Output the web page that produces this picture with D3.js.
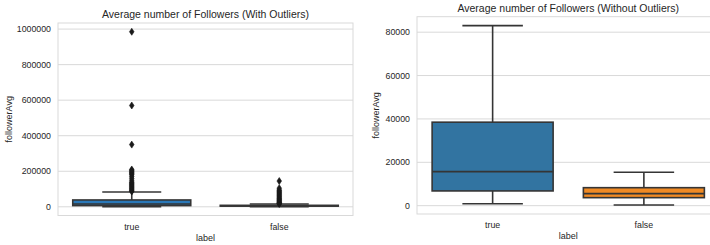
<!DOCTYPE html>
<html><head><meta charset="utf-8">
<script src="https://cdn.jsdelivr.net/npm/d3@7"></script>
<style>
body{margin:0;background:#fff;}
svg{display:block;font-family:"Liberation Sans",Arial,sans-serif;}
</style></head>
<body><svg id="c" width="710" height="245"></svg>
<script>
// ---- data ----
const categories = ["true", "false"];
const q1 = [6800, 3700];
const median = [15700, 5550];
const q3 = [38500, 8300];
const whiskerLow = [900, 300];
const whiskerHigh = [83000, 15400];
const outliersTrue = [86000, 90000, 95000, 100000, 105000, 110000, 115000, 120000, 125000, 130000, 135000, 140000, 150000, 160000, 170000, 180000, 185000, 190000, 195000, 200000, 205000, 210000, 350000, 570000, 985000];
const outliersFalse = [16000, 18000, 20000, 23000, 26000, 30000, 34000, 38000, 42000, 46000, 50000, 55000, 60000, 65000, 70000, 75000, 80000, 85000, 90000, 95000, 105000, 145000];
const yTicksLeft = [0, 200000, 400000, 600000, 800000, 1000000];
const yTicksRight = [0, 20000, 40000, 60000, 80000];
const titles = ["Average number of Followers (With Outliers)", "Average number of Followers (Without Outliers)"];
const xLabel = "label";
const yLabel = "followerAvg";

const svg = d3.select("#c");
const lineCol = "#353535";
const gridCol = "#d9d9d9";

function panel(o){
  const g = svg.append("g");
  const x = d3.scaleBand().domain(categories).range([o.x0, o.x1]).paddingInner(0.2).paddingOuter(0.1);
  let lo = d3.min(whiskerLow), hi = d3.max(whiskerHigh);
  if (o.outliers){ hi = Math.max(hi, d3.max(outliersTrue), d3.max(outliersFalse)); lo = Math.min(lo, d3.min(outliersTrue), d3.min(outliersFalse)); }
  const m = (hi - lo) * 0.05;
  const y = d3.scaleLinear().domain([lo - m, hi + m]).range([o.y1, o.y0]);
  g.selectAll(".grid").data(o.ticks).join("line")
    .attr("x1", o.x0).attr("x2", o.x1).attr("y1", d=>y(d)).attr("y2", d=>y(d))
    .attr("stroke", gridCol).attr("stroke-width", 1);
  g.append("rect").attr("x", o.x0).attr("y", o.y0).attr("width", o.x1 - o.x0).attr("height", o.y1 - o.y0)
    .attr("fill", "none").attr("stroke", gridCol).attr("stroke-width", 1);
  g.selectAll(".yt").data(o.ticks).join("text")
    .attr("x", o.x0 - 7).attr("y", d=>y(d)).attr("dy", "0.35em")
    .attr("text-anchor", "end").attr("font-size", 8.8).attr("fill", "#262626").text(d=>d);
  g.selectAll(".xt").data(categories).join("text")
    .attr("x", d=>x(d) + x.bandwidth()/2).attr("y", o.y1 + 14)
    .attr("text-anchor", "middle").attr("font-size", 8.8).attr("fill", "#262626").text(d=>d);
  g.append("text").attr("x", (o.x0 + o.x1)/2).attr("y", o.y1 + 25)
    .attr("text-anchor", "middle").attr("font-size", 9).attr("fill", "#262626").text(xLabel);
  g.append("text").attr("transform", `translate(${o.ylx},${(o.y0 + o.y1)/2}) rotate(-90)`)
    .attr("text-anchor", "middle").attr("font-size", 9).attr("fill", "#262626").text(yLabel);
  g.append("text").attr("x", (o.x0 + o.x1)/2).attr("y", o.y0 - 5)
    .attr("text-anchor", "middle").attr("font-size", 10.5).attr("fill", "#262626").text(o.title);
  categories.forEach((c, i) => {
    const bx = x(c), bw = x.bandwidth(), cx = bx + bw/2, cw = bw/2;
    g.append("line").attr("x1", cx).attr("x2", cx).attr("y1", y(q3[i])).attr("y2", y(whiskerHigh[i])).attr("stroke", lineCol).attr("stroke-width", 1.6);
    g.append("line").attr("x1", cx).attr("x2", cx).attr("y1", y(q1[i])).attr("y2", y(whiskerLow[i])).attr("stroke", lineCol).attr("stroke-width", 1.6);
    [whiskerHigh[i], whiskerLow[i]].forEach(v => {
      g.append("line").attr("x1", cx - cw/2).attr("x2", cx + cw/2).attr("y1", y(v)).attr("y2", y(v)).attr("stroke", lineCol).attr("stroke-width", 1.6);
    });
    g.append("rect").attr("x", bx).attr("width", bw).attr("y", y(q3[i])).attr("height", y(q1[i]) - y(q3[i]))
      .attr("fill", o.colors[i]).attr("stroke", lineCol).attr("stroke-width", 1.6);
    g.append("line").attr("x1", bx).attr("x2", bx + bw).attr("y1", y(median[i])).attr("y2", y(median[i])).attr("stroke", lineCol).attr("stroke-width", 1.6);
    if (o.outliers){
      const outs = i === 0 ? outliersTrue : outliersFalse;
      g.selectAll(null).data(outs).join("path")
        .attr("d", "M0,-3.5L2.3,0L0,3.5L-2.3,0Z")
        .attr("transform", d=>`translate(${cx},${y(d)})`)
        .attr("fill", "#1a1a1a").attr("stroke", "#1a1a1a").attr("stroke-width", 0.6);
    }
  });
}

panel({x0: 58, x1: 353, y0: 23, y1: 215.5, ticks: yTicksLeft, outliers: true, title: titles[0], ylx: 12, colors: ["#2a78b8", "#e8842a"]});
panel({x0: 417, x1: 719.5, y0: 16.7, y1: 214, ticks: yTicksRight, outliers: false, title: titles[1], ylx: 379, colors: ["#3274a1", "#f08a24"]});
</script></body></html>
